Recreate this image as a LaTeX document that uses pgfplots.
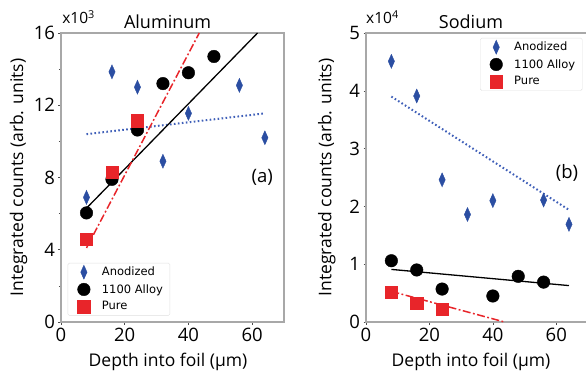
\documentclass[border=0pt]{standalone}
\usepackage{pgfplots}
\pgfplotsset{compat=1.18}
\usepackage{fontspec}
\setmainfont{Open Sans}
\newfontfamily\legfont{DejaVu Sans}
\definecolor{myblue}{HTML}{2B4EA2}
\definecolor{lineblue}{HTML}{3F5FB8}
\definecolor{myred}{HTML}{E8252A}
\definecolor{frame}{HTML}{A8A8A8}
\pgfplotsset{
  base/.style={
    scale only axis,
    height=289pt,
    axis line style={frame, line width=1.3pt},
    tick style={black!70, line width=0.6pt},
    major tick length=2.5pt,
    minor tick length=2pt,
    tick pos=left,
    tick align=outside,
    xmin=0, xmax=70,
    xtick={0,20,40,60},
    ymin=0,
    tick label style={font=\fontsize{18.5}{18.5}\selectfont},
    /pgf/number format/assume math mode=true,
    label style={font=\fontsize{17.5}{18}\selectfont},
    clip=false,
    legend cell align=left,
    legend style={font=\legfont\fontsize{11.5}{13}\selectfont, draw=black!12, rounded corners=1.5pt, row sep=3pt, inner xsep=5pt, inner ysep=2pt,
      /tikz/every odd column/.append style={column sep=5pt}},
  },
  legimg/.style={legend image code/.code={\path[draw=none,fill=none] (0pt,0pt) -- (22pt,0pt); \draw plot coordinates {(11pt,0pt)};}},
  anod/.style={only marks, mark=diamond*, mark size=7pt, mark options={xscale=0.6, fill=myblue, draw=myblue}, legimg},
  alloy/.style={only marks, mark=*, mark size=6.3pt, mark options={fill=black, draw=black}, legimg},
  pure/.style={only marks, mark=square*, mark size=6.2pt, mark options={fill=myred, draw=myred}, legimg},
  bluetrend/.style={lineblue, line width=2pt, dash pattern=on 1.6pt off 2.4pt, forget plot},
  blacktrend/.style={black, line width=1.3pt, forget plot},
  redtrend/.style={myred, line width=1.5pt, dash pattern=on 8pt off 2.5pt on 1.8pt off 2.5pt, forget plot},
}
\begin{document}
\begin{tikzpicture}[x=1pt,y=1pt]
\useasboundingbox (0,0) rectangle (586,375);
% ---------------- Aluminum ----------------
\begin{axis}[base,
  at={(61pt,53pt)}, anchor=south west,
  width=223pt,
  ymax=16, ytick={0,4,8,12,16}, minor ytick={2,6,10,14},
  xlabel={Depth into foil (\textmu m)},
  ylabel={Integrated counts (arb. units)},
  xlabel style={at={(axis description cs:0.48,-0.138)}, anchor=center},
  ylabel style={at={(axis description cs:-0.19,0.5)}, anchor=center},
  legend style={at={(axis description cs:0.03,0.022)}, anchor=south west},
]
\addplot[bluetrend] coordinates {(8,10.4) (64,11.55)};
\addplot[blacktrend] coordinates {(8,6.3) (61.7,16)};
\addplot[redtrend] coordinates {(8,4.1) (43.4,16)};
\addplot[anod] coordinates {(8,6.9) (16,13.85) (24,13.0) (32,8.9) (40,11.55) (56,13.1) (64,10.2)};
\addplot[alloy] coordinates {(8,6.04) (16,7.9) (24,10.63) (32,13.2) (40,13.8) (48,14.7)};
\addplot[pure] coordinates {(8,4.57) (16,8.31) (24,11.14)};
\legend{Anodized, 1100 Alloy, Pure}
\node[font=\fontsize{18.5}{18.5}\selectfont] at (axis cs:63.2,8.0) {(a)};
\node[font=\fontsize{18}{18}\selectfont] at (axis description cs:0.478,1.04) {Aluminum};
\node[font=\fontsize{15.5}{15.5}\selectfont, anchor=west, inner sep=0pt] at (axis description cs:0.005,1.055) {x10$^{\mathrm{3}}$};
\end{axis}
% ---------------- Sodium ----------------
\begin{axis}[base,
  at={(366pt,53pt)}, anchor=south west,
  width=222pt,
  ymax=5, ytick={0,1,2,3,4,5},
  xlabel={Depth into foil (\textmu m)},
  ylabel={Integrated counts (arb. units)},
  xlabel style={at={(axis description cs:0.473,-0.138)}, anchor=center},
  ylabel style={at={(axis description cs:-0.176,0.5)}, anchor=center},
  legend style={at={(axis description cs:0.975,0.983)}, anchor=north east},
]
\addplot[bluetrend] coordinates {(8,3.9) (64,1.94)};
\addplot[blacktrend] coordinates {(8,0.91) (64,0.63)};
\addplot[redtrend] coordinates {(8,0.53) (43.7,0)};
\addplot[anod] coordinates {(8,4.51) (16,3.91) (24,2.46) (32,1.86) (40,2.10) (56,2.11) (64,1.69)};
\addplot[alloy] coordinates {(8,1.06) (16,0.90) (24,0.57) (40,0.45) (48,0.79) (56,0.69)};
\addplot[pure] coordinates {(8,0.52) (16,0.33) (24,0.22)};
\legend{Anodized, 1100 Alloy, Pure}
\node[font=\fontsize{18.5}{18.5}\selectfont] at (axis cs:63.4,2.58) {(b)};
\node[font=\fontsize{18}{18}\selectfont] at (axis description cs:0.473,1.04) {Sodium};
\node[font=\fontsize{15.5}{15.5}\selectfont, anchor=west, inner sep=0pt] at (axis description cs:0.0,1.055) {x10$^{\mathrm{4}}$};
\end{axis}
\end{tikzpicture}
\end{document}
